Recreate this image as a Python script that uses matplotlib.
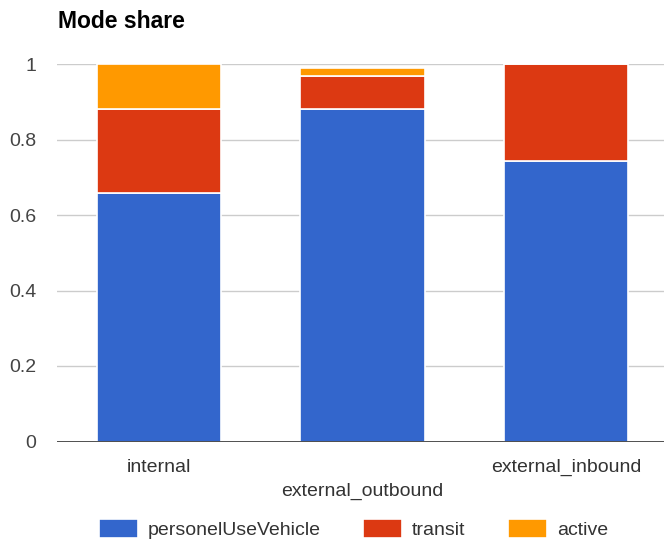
import matplotlib
matplotlib.use("Agg")
import matplotlib.pyplot as plt
import matplotlib.transforms as mtransforms
import numpy as np

categories = ['internal', 'external_outbound', 'external_inbound']
personal_use_vehicle = [0.658, 0.881, 0.743]
transit = [0.223, 0.087, 0.257]
active = [0.119, 0.021, 0.0]

plt.rcParams['font.family'] = ['Liberation Sans', 'DejaVu Sans']

fig = plt.figure(figsize=(6.64, 5.41), dpi=100)
ax = fig.add_axes([57 / 664, 1 - 441.5 / 541, 1 - 57 / 664, (441.5 - 64) / 541])

x = np.arange(len(categories))
w = 0.61
b1 = np.array(personal_use_vehicle)
b2 = b1 + np.array(transit)
ax.bar(x, personal_use_vehicle, w, color='#3366CC', edgecolor='white', linewidth=1.2,
       label='personelUseVehicle', zorder=3)
ax.bar(x, transit, w, bottom=b1, color='#DC3912', edgecolor='white', linewidth=1.2,
       label='transit', zorder=3)
ax.bar(x, active, w, bottom=b2, color='#FF9900', edgecolor='white', linewidth=1.2,
       label='active', zorder=3)

ax.set_xlim(-0.5, 2.48)
ax.set_ylim(0, 1)
ax.set_yticks([0, 0.2, 0.4, 0.6, 0.8, 1])
ax.set_yticklabels(['0', '0.2', '0.4', '0.6', '0.8', '1'])
ax.grid(axis='y', color='#cccccc', linewidth=1, zorder=0)
ax.axhline(0, color='#333333', linewidth=1.2, zorder=4)
for s in ax.spines.values():
    s.set_visible(False)
ax.tick_params(axis='y', length=0, pad=15, labelsize=14, labelcolor='#444444')
ax.tick_params(axis='x', length=0, pad=12.5, labelsize=14, labelcolor='#333333')
ax.set_xticks(x)
ax.set_xticklabels(categories)
# stagger the middle label like Google Charts does
lbl = ax.get_xticklabels()[1]
lbl.set_transform(lbl.get_transform() + mtransforms.ScaledTranslation(0, -24 / 100, fig.dpi_scale_trans))

fig.text(58 / 664, 1 - 21 / 541, 'Mode share', fontsize=16.5, fontweight='bold',
         va='center', ha='left', color='#000000')

fig.legend(loc='center left', bbox_to_anchor=(99 / 664, 1 - 529 / 541), ncol=3, frameon=False,
           fontsize=14, handlelength=2.0, handleheight=1.1, handletextpad=0.5,
           columnspacing=2.2, borderpad=0, borderaxespad=0, labelcolor='#333333')

fig.savefig('out.png', dpi=100)
